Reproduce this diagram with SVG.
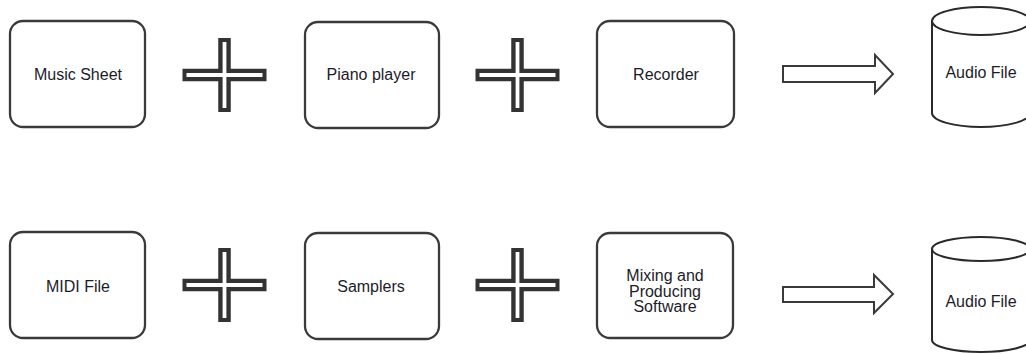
<svg xmlns="http://www.w3.org/2000/svg" width="1026" height="354" viewBox="0 0 1026 354">
  <defs>
    <style>
      .box { fill: #fff; stroke: #3a3a3a; stroke-width: 2.3; }
      .lbl { font-family: "Liberation Sans", Arial, sans-serif; font-size: 16px; fill: #1c1c28; text-anchor: middle; }
      .plus-out { stroke: #333; stroke-width: 12.5; fill: none; stroke-linecap: butt; }
      .plus-in { stroke: #fff; stroke-width: 3.8; fill: none; stroke-linecap: butt; }
      .arrow { fill: #fff; stroke: #3a3a3a; stroke-width: 2; stroke-linejoin: miter; }
      .cyl { fill: #fff; stroke: #2a2a2a; stroke-width: 2; }
    </style>
    <!-- hollow plus sign, centred on 0,0 -->
    <g id="plus">
      <path class="plus-out" d="M-42,0 H42 M0,-37 V37"/>
      <path class="plus-in" d="M-38,0 H38 M0,-33 V33"/>
    </g>
  </defs>
  <rect width="1026" height="354" fill="#fff"/>

  <!-- top row -->
  <g id="music-sheet">
    <rect class="box" x="10" y="21" width="135" height="106" rx="13"/>
    <text class="lbl" x="78" y="80">Music Sheet</text>
  </g>
  <g id="piano-player">
    <rect class="box" x="305" y="22" width="134" height="106" rx="13"/>
    <text class="lbl" x="371" y="80">Piano player</text>
  </g>
  <g id="recorder">
    <rect class="box" x="597" y="21" width="137" height="106" rx="13"/>
    <text class="lbl" x="666" y="80">Recorder</text>
  </g>
  <g id="audio-file-1">
    <path class="cyl" d="M932,21 A49,14 0 0 1 1030,21 V113 A49,14 0 0 1 932,113 Z"/>
    <path class="cyl" fill="none" d="M932,21 A49,14 0 0 0 1030,21"/>
    <text class="lbl" x="981" y="78">Audio File</text>
  </g>

  <!-- bottom row -->
  <g id="midi-file">
    <rect class="box" x="10" y="232" width="135" height="106" rx="13"/>
    <text class="lbl" x="78" y="292">MIDI File</text>
  </g>
  <g id="samplers">
    <rect class="box" x="305" y="233" width="134" height="106" rx="13"/>
    <text class="lbl" x="371" y="292">Samplers</text>
  </g>
  <g id="mixing-software">
    <rect class="box" x="597" y="233" width="136" height="105" rx="13"/>
    <text class="lbl" x="665" y="281">Mixing and</text>
    <text class="lbl" x="665" y="296.5">Producing</text>
    <text class="lbl" x="665" y="312">Software</text>
  </g>
  <g id="audio-file-2">
    <path class="cyl" d="M932,249 A49,12 0 0 1 1030,249 V340 A49,12 0 0 1 932,340 Z"/>
    <path class="cyl" fill="none" d="M932,249 A49,12 0 0 0 1030,249"/>
    <text class="lbl" x="981" y="307">Audio File</text>
  </g>

  <!-- connectors: plus signs and block arrows -->
  <g id="connectors">
    <use href="#plus" x="224.5" y="75"/>
    <use href="#plus" x="517.5" y="75"/>
    <use href="#plus" x="224.5" y="285"/>
    <use href="#plus" x="517.5" y="285"/>
    <path class="arrow" d="M783,66 H875 V55 L893,74 L875,93 V82 H783 Z"/>
    <path class="arrow" d="M783,287 H874 V275 L893,294 L874,313 V302 H783 Z"/>
  </g>
</svg>
